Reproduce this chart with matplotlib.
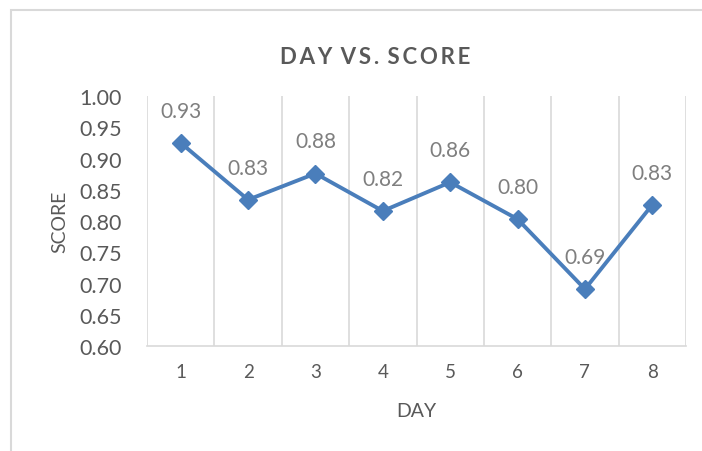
import matplotlib.pyplot as plt
from matplotlib.patches import Rectangle

days = [1, 2, 3, 4, 5, 6, 7, 8]
scores = [0.925, 0.834, 0.876, 0.816, 0.862, 0.803, 0.691, 0.826]
yticks = [0.60, 0.65, 0.70, 0.75, 0.80, 0.85, 0.90, 0.95, 1.00]

plt.rcParams['font.family'] = ['Lato', 'DejaVu Sans']

fig = plt.figure(figsize=(7.02, 4.52), dpi=100)
ax = fig.add_axes([147/702, 1-347/452, (686-147)/702, (347-97)/452])

# chart border (cut off at right and bottom like the screenshot)
fig.patches.append(Rectangle((11/702, -0.1), 1.2, 1-11/452+0.1, transform=fig.transFigure,
                             fill=False, edgecolor='#d9d9d9', linewidth=1.5))

blue = '#4a7ebb'
ax.plot(days, scores, color=blue, linewidth=2.8, marker='D', markersize=9.5,
        markerfacecolor=blue, markeredgecolor=blue)
for d, s in zip(days, scores):
    ax.annotate(f'{s:.2f}', (d, s), xytext=(0, 16), textcoords='offset points',
                ha='center', va='bottom', fontsize=15, color='#7f7f7f')

ax.set_xlim(0.5, 8.5)
ax.set_ylim(0.60, 1.00)
ax.set_yticks(yticks)
ax.set_yticklabels([f'{v:.2f}' for v in yticks])
ax.set_xticks(days)
ax.set_xticks([d + 0.5 for d in [0] + days], minor=True)
ax.grid(True, axis='x', which='minor', color='#d9d9d9', linewidth=1.2)
ax.tick_params(axis='x', which='both', length=0, labelsize=13.5, labelcolor='#595959', pad=12)
ax.tick_params(axis='y', which='both', length=0, labelsize=15.5, labelcolor='#595959', pad=18)
for side in ['top', 'left', 'right']:
    ax.spines[side].set_visible(False)
ax.spines['bottom'].set_color('#d9d9d9')
ax.spines['bottom'].set_linewidth(1.2)

ax.set_xlabel('DAY', fontsize=14, color='#595959', labelpad=16)
ax.set_ylabel('SCORE', fontsize=14, color='#595959', labelpad=8)
fig.text(375/702, 1-57/452, 'D A Y   V S .   S C O R E'.replace(' ', '\u2009'),
         ha='center', va='center', fontsize=16, fontweight='bold', color='#595959')

fig.savefig('out.png', dpi=100)
